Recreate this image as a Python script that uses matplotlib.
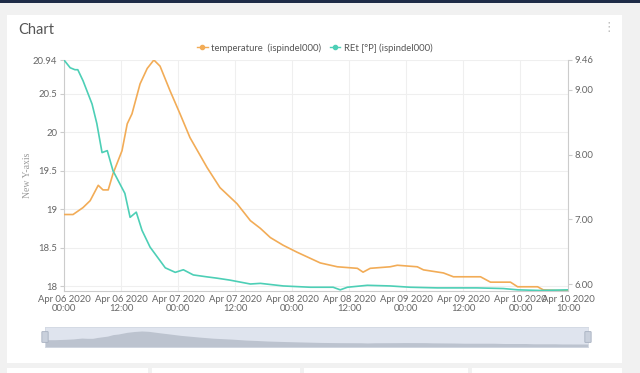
import matplotlib
matplotlib.use('Agg')
import matplotlib.pyplot as plt
from matplotlib.lines import Line2D
from matplotlib.patches import Rectangle, FancyBboxPatch
from datetime import datetime, timedelta

plt.rcParams['font.family'] = ['Lato', 'DejaVu Sans']

# data (hours since Apr 06 2020 00:00)
start = datetime(2020, 4, 6, 0, 0)

temp_hours = [0, 1.9, 4.0, 5.5, 7.2, 8.2, 9.3, 10.3, 12.2, 13.3, 14.3, 16.0, 17.5, 18.9,
              20.2, 22.3, 24.4, 26.5, 30.1, 32.8, 36.4, 39.2, 41.3, 43.4, 46.1, 49.0,
              51.8, 53.9, 57.5, 61.7, 62.9, 64.4, 68.6, 70.1, 74.3, 75.6, 79.8, 81.9,
              87.6, 89.7, 93.9, 95.4, 99.6, 100.8, 104.4, 106]
temperature = [18.93, 18.93, 19.02, 19.11, 19.31, 19.25, 19.25, 19.46, 19.76, 20.11, 20.24,
               20.63, 20.83, 20.94, 20.86, 20.54, 20.24, 19.93, 19.54, 19.28, 19.07, 18.85,
               18.75, 18.63, 18.53, 18.44, 18.36, 18.30, 18.25, 18.23, 18.18, 18.23, 18.25,
               18.27, 18.25, 18.21, 18.17, 18.12, 18.12, 18.05, 18.05, 17.99, 17.99, 17.95,
               17.94, 17.94]

re_hours = [0, 1.3, 2.3, 2.9, 4.0, 5.9, 6.9, 8.0, 9.1, 10.3, 12.8, 13.9, 15.2, 16.4, 18.1,
            19.6, 21.3, 23.4, 25.1, 27.2, 30.1, 32.2, 34.9, 39.2, 41.3, 46.1, 51.8, 56.6,
            58.1, 59.6, 63.8, 68.6, 72.8, 78.5, 86.9, 92.4, 95.4, 100.2, 106]
re_plato = [9.46, 9.34, 9.31, 9.31, 9.14, 8.78, 8.48, 8.03, 8.06, 7.75, 7.40, 7.03, 7.11,
            6.83, 6.57, 6.42, 6.25, 6.18, 6.22, 6.14, 6.11, 6.09, 6.06, 6.00, 6.01, 5.97,
            5.95, 5.95, 5.91, 5.95, 5.98, 5.97, 5.95, 5.94, 5.94, 5.93, 5.91, 5.90, 5.91]

left_ticks = [18, 18.5, 19, 19.5, 20, 20.5, 20.94]
left_labels = ['18', '18.5', '19', '19.5', '20', '20.5', '20.94']
right_ticks = [6.0, 7.0, 8.0, 9.0, 9.46]
tick_hours = [0, 12, 24, 36, 48, 60, 72, 84, 96, 106]

orange = '#f2ac57'
teal = '#4dcfb6'
grey_txt = '#666666'

t_temp = [start + timedelta(hours=h) for h in temp_hours]
t_re = [start + timedelta(hours=h) for h in re_hours]
t_ticks = [start + timedelta(hours=h) for h in tick_hours]

fig = plt.figure(figsize=(6.4, 3.73), dpi=100)
fig.patch.set_facecolor('#f1f1f1')
W, H = 640.0, 373.0

# card and page bits (drawn behind the axes)
fig.patches.append(Rectangle((7 / W, 1 - 363 / H), 615 / W, 348 / H, transform=fig.transFigure,
                             facecolor='white', edgecolor='none', zorder=-10))
fig.patches.append(Rectangle((0, 1 - 3 / H), 1, 3 / H, transform=fig.transFigure,
                             facecolor='#1e2b47', edgecolor='none', zorder=-10))
for x0, x1 in [(7, 148), (152, 300), (304, 468), (472, 622)]:
    fig.patches.append(Rectangle((x0 / W, 0), (x1 - x0) / W, 5 / H, transform=fig.transFigure,
                                 facecolor='white', edgecolor='none', zorder=-10))

fig.text(18 / W, 1 - 30 / H, 'Chart', fontsize=10.5, color='#555555', va='center', ha='left')
fig.text(609 / W, 1 - 28 / H, '\u22ee', fontsize=9, color='#bbbbbb', va='center', ha='center',
         family='DejaVu Sans')

ax = fig.add_axes([64 / W, 1 - 291 / H, 504 / W, 231 / H])
ax.patch.set_alpha(0)
ax2 = ax.twinx()

ax.plot(t_temp, temperature, color=orange, lw=1.2, zorder=3)
ax2.plot(t_re, re_plato, color=teal, lw=1.2, zorder=3)

ax.set_xlim(start, start + timedelta(hours=106))
ax.set_ylim(17.935, 20.94)
ax2.set_ylim(5.892, 9.46)

ax.set_yticks(left_ticks)
ax.set_yticklabels(left_labels)
ax2.set_yticks(right_ticks)
ax2.set_yticklabels(['%.2f' % v for v in right_ticks])
ax.set_xticks(t_ticks)
ax.set_xticklabels([d.strftime('%b %d %Y\n%H:%M') for d in t_ticks])

ax.grid(True, color='#efefef', lw=0.8, zorder=0)
ax.set_axisbelow(True)

for a in (ax, ax2):
    for s in a.spines.values():
        s.set_color('#cccccc')
        s.set_linewidth(0.8)
    a.spines['top'].set_visible(False)
ax.spines['right'].set_visible(False)
ax2.spines['left'].set_visible(False)
ax2.spines['bottom'].set_visible(False)

ax.tick_params(axis='y', length=3, color='#cccccc', labelsize=6.8, labelcolor=grey_txt, pad=2)
ax2.tick_params(axis='y', length=3, color='#cccccc', labelsize=6.8, labelcolor=grey_txt, pad=2)
ax.tick_params(axis='x', length=0, labelsize=6.8, labelcolor=grey_txt, pad=3)
for lbl in ax.get_xticklabels():
    lbl.set_linespacing(0.95)

fig.text(28 / W, 1 - 175 / H, 'New Y-axis', rotation=90, fontsize=7, color='#9a9a9a',
         family='Liberation Serif', va='center', ha='center')

handles = [Line2D([], [], color=orange, lw=1, marker='o', markersize=3),
           Line2D([], [], color=teal, lw=1, marker='o', markersize=3)]
fig.legend(handles, ['temperature  (ispindel000)', 'REt [\u00b0P] (ispindel000)'],
           loc='center', bbox_to_anchor=(315 / W, 1 - 48 / H), ncol=2, frameon=False,
           fontsize=6.8, handlelength=1.1, handletextpad=0.4, columnspacing=0.9,
           labelcolor='#555555')

# data zoom slider with the temperature shadow
sax = fig.add_axes([45 / W, 1 - 347 / H, 543 / W, 20 / H])
sax.set_facecolor('#dfe4ee')
sax.fill_between(temp_hours, temperature, 17.0, color='#bcc3cf', lw=0)
sax.set_xlim(0, 106)
sax.set_ylim(17.25, 21.86)
sax.set_xticks([])
sax.set_yticks([])
for s in sax.spines.values():
    s.set_color('#d3d9e3')
    s.set_linewidth(0.6)
for hx in (45, 588):
    fig.patches.append(FancyBboxPatch(((hx - 2.5) / W, 1 - 342 / H), 5 / W, 10 / H,
                                      boxstyle='round,pad=0.001', transform=fig.transFigure,
                                      facecolor='#c9d0dc', edgecolor='#a7b0c0', lw=0.6, zorder=5))

fig.savefig('out.png', dpi=100, facecolor=fig.get_facecolor())
